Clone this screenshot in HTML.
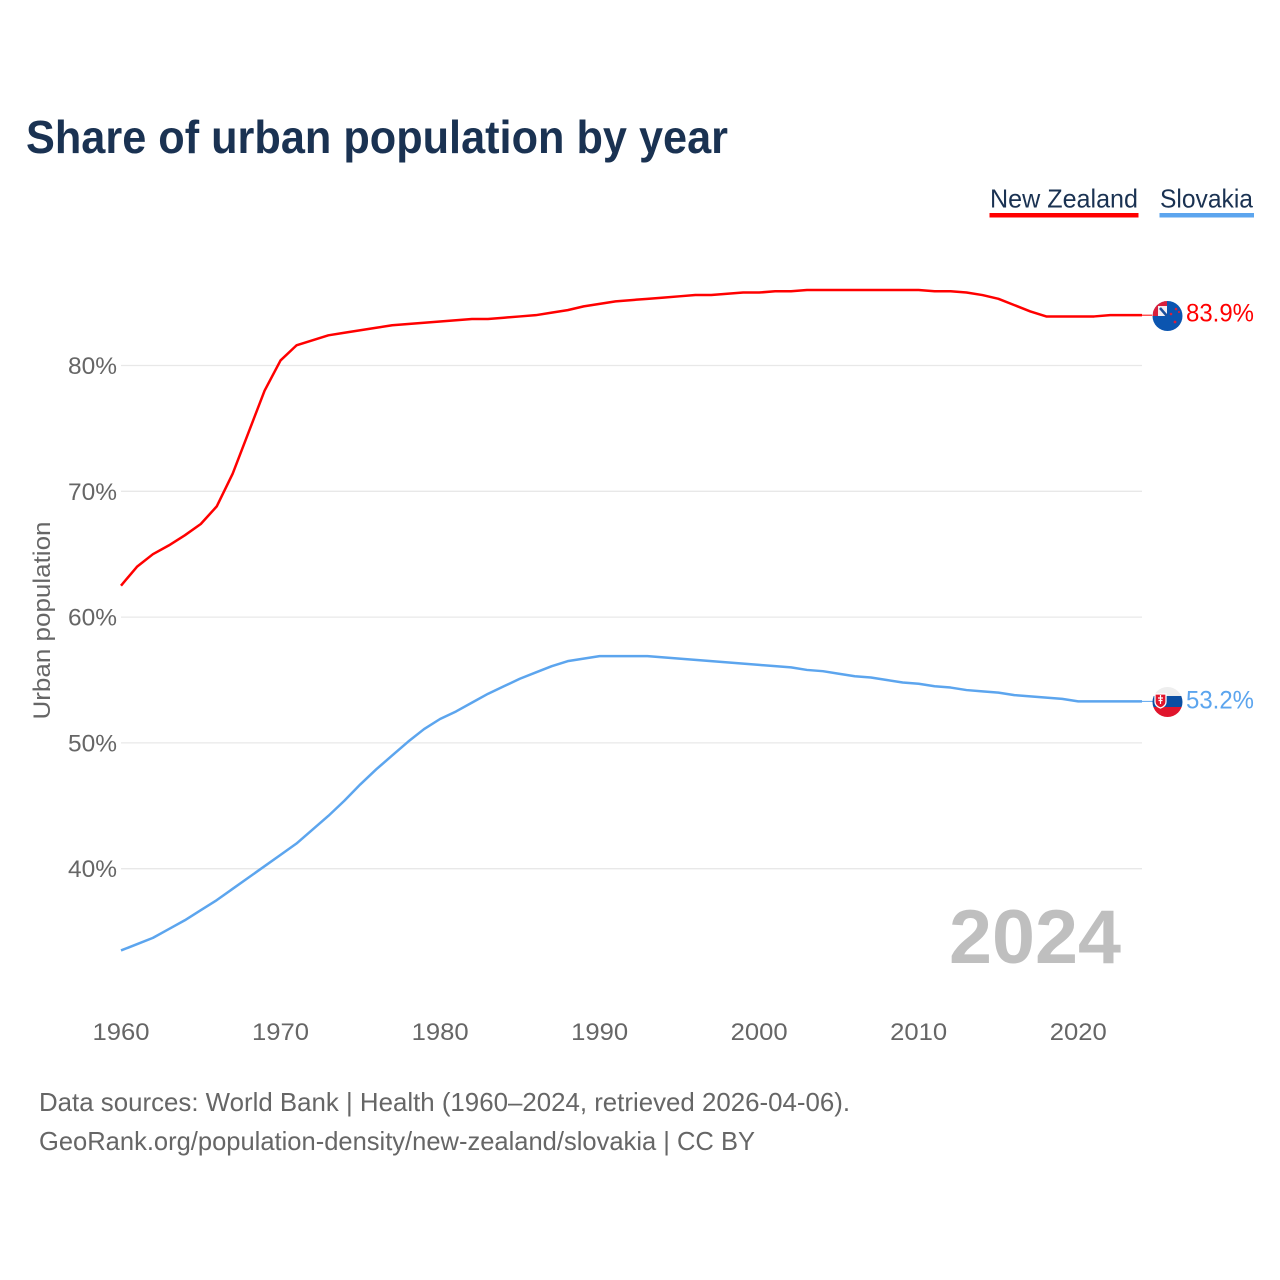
<!DOCTYPE html>
<html lang="en">
<head>
<meta charset="utf-8">
<title>Share of urban population by year</title>
<style>
html,body{margin:0;padding:0;background:#fff;width:1280px;height:1280px;overflow:hidden}
svg{display:block;font-family:"Liberation Sans",sans-serif}
</style>
</head>
<body>
<svg id="chart" width="1280" height="1280" viewBox="0 0 1280 1280" xmlns="http://www.w3.org/2000/svg">
  <rect width="1280" height="1280" fill="#fff"/>
  <text x="26" y="153" font-size="46" font-weight="700" fill="#1a3252" textLength="702" lengthAdjust="spacingAndGlyphs">Share of urban population by year</text>

  <g>
    <g>
      <text x="990" y="207.500" font-size="26" fill="#1a3252" textLength="148" lengthAdjust="spacingAndGlyphs">New Zealand</text>
      <rect x="989.5" y="213" width="149" height="4.5" fill="#ff0000"/>
    </g>
    <g>
      <text x="1160" y="207.500" font-size="26" fill="#1a3252" textLength="93" lengthAdjust="spacingAndGlyphs">Slovakia</text>
      <rect x="1159.5" y="213" width="94.5" height="4.5" fill="#5ca5ee"/>
    </g>
  </g>

  <g id="grid"></g>
  <g id="yticks"></g>
  <g id="xticks"></g>
  <text transform="translate(50,620.5) rotate(-90)" text-anchor="middle" font-size="24.500" fill="#666" textLength="198" lengthAdjust="spacingAndGlyphs">Urban population</text>

  <text x="949" y="963" font-size="76" font-weight="700" fill="#bfbfbf" textLength="172" lengthAdjust="spacingAndGlyphs">2024</text>

  <g id="series"></g>

  <defs>
    <clipPath id="nz-clip"><circle cx="1167.500" cy="316" r="15"/></clipPath>
    <clipPath id="sk-clip"><circle cx="1167.500" cy="702" r="15"/></clipPath>
  </defs>
  <g id="flag-nz" clip-path="url(#nz-clip)">
    <rect x="1152" y="300" width="31" height="32" fill="#0b55b0"/>
    <rect x="1152" y="300" width="15" height="16" fill="#f2eef2"/>
    <rect x="1153" y="301" width="14" height="5" fill="#d81f3c"/>
    <rect x="1153" y="301" width="5" height="15" fill="#d81f3c"/>
    <path d="M1160 308 L1167 316" stroke="#1b4f9c" stroke-width="2.5"/>
    <circle cx="1171" cy="314" r="1.3" fill="#d81f3c"/>
    <circle cx="1176" cy="309" r="1.3" fill="#d81f3c"/>
    <circle cx="1179" cy="312" r="1.1" fill="#d81f3c"/>
    <circle cx="1175" cy="322" r="1.4" fill="#d81f3c"/>
  </g>
  <g id="flag-sk" clip-path="url(#sk-clip)">
    <rect x="1152" y="687" width="31" height="9" fill="#eeeeee"/>
    <rect x="1152" y="696" width="31" height="11" fill="#0b4ea2"/>
    <rect x="1152" y="707" width="31" height="10" fill="#e0152c"/>
    <path d="M1155 694 h11 v8 q0 4 -5.5 6 q-5.500 -2 -5.500 -6 z" fill="#e0152c" stroke="#fff" stroke-width="1.300"/>
    <path d="M1160.500 695 v9 M1158 698 h5 M1158.500 700.500 h4" stroke="#fff" stroke-width="1.200"/>
  </g>

  <text x="1186" y="321.500" font-size="25" fill="#ff0000" textLength="68" lengthAdjust="spacingAndGlyphs">83.9%</text>
  <text x="1186" y="708.500" font-size="25" fill="#5ca5ee" textLength="68" lengthAdjust="spacingAndGlyphs">53.2%</text>

  <text x="39" y="1111" font-size="26" fill="#666" textLength="811" lengthAdjust="spacingAndGlyphs">Data sources: World Bank | Health (1960–2024, retrieved 2026-04-06).</text>
  <a><text x="39" y="1150" font-size="26" fill="#666" textLength="716" lengthAdjust="spacingAndGlyphs">GeoRank.org/population-density/new-zealand/slovakia | CC BY</text></a>
</svg>

<script>
const years = [1960,1961,1962,1963,1964,1965,1966,1967,1968,1969,1970,1971,1972,1973,1974,1975,1976,1977,1978,1979,1980,1981,1982,1983,1984,1985,1986,1987,1988,1989,1990,1991,1992,1993,1994,1995,1996,1997,1998,1999,2000,2001,2002,2003,2004,2005,2006,2007,2008,2009,2010,2011,2012,2013,2014,2015,2016,2017,2018,2019,2020,2021,2022,2023,2024];
const newZealand = [62.5,64,65,65.7,66.5,67.4,68.8,71.4,74.7,78,80.4,81.6,82,82.4,82.6,82.8,83,83.2,83.3,83.4,83.5,83.6,83.7,83.7,83.8,83.9,84,84.2,84.4,84.7,84.9,85.1,85.2,85.3,85.4,85.5,85.6,85.6,85.7,85.8,85.8,85.9,85.9,86,86,86,86,86,86,86,86,85.9,85.9,85.8,85.6,85.3,84.8,84.3,83.9,83.9,83.9,83.9,84,84,84];
const slovakia = [33.5,34,34.5,35.2,35.9,36.7,37.5,38.4,39.3,40.2,41.1,42,43.1,44.2,45.4,46.7,47.9,49,50.1,51.1,51.9,52.5,53.2,53.9,54.5,55.1,55.6,56.1,56.5,56.7,56.9,56.9,56.9,56.9,56.8,56.7,56.6,56.5,56.4,56.3,56.2,56.1,56,55.8,55.7,55.5,55.3,55.2,55,54.8,54.7,54.5,54.4,54.2,54.1,54,53.8,53.7,53.6,53.5,53.3,53.3,53.3,53.3,53.3];
const yTickValues = [40,50,60,70,80];
const yTickLabels = ["40%","50%","60%","70%","80%"];
const xTickValues = [1960,1970,1980,1990,2000,2010,2020];
const xTickLabels = ["1960","1970","1980","1990","2000","2010","2020"];

const NS = 'http://www.w3.org/2000/svg';
function xScale(year){ return 121 + (year - 1960) * (1142 - 121) / 64; }
function yScale(v){ return 868.7 - (v - 40) * (868.7 - 365.5) / 40; }

const gridGroup = document.getElementById('grid');
const yGroup = document.getElementById('yticks');
const xGroup = document.getElementById('xticks');
const seriesGroup = document.getElementById('series');

yTickValues.forEach(function(v, i){
  const line = document.createElementNS(NS, 'line');
  
  
  line.setAttribute('x1', 121);
  line.setAttribute('x2', 1142);
  line.setAttribute('y1', yScale(v));
  line.setAttribute('y2', yScale(v));
  line.setAttribute('stroke', '#e8e8e8');
  line.setAttribute('stroke-width', '1.3');
  gridGroup.appendChild(line);

  const t = document.createElementNS(NS, 'text');
  
  
  t.setAttribute('x', 117);
  t.setAttribute('y', yScale(v) + 8.5);
  t.setAttribute('text-anchor', 'end');
  t.setAttribute('font-size', '24');
  t.setAttribute('fill', '#666');
  t.setAttribute('textLength', '49');
  t.setAttribute('lengthAdjust', 'spacingAndGlyphs');
  t.textContent = yTickLabels[i];
  yGroup.appendChild(t);
});

xTickValues.forEach(function(v, i){
  const t = document.createElementNS(NS, 'text');
  
  
  t.setAttribute('x', xScale(v));
  t.setAttribute('y', 1040);
  t.setAttribute('text-anchor', 'middle');
  t.setAttribute('font-size', '24');
  t.setAttribute('fill', '#666');
  t.setAttribute('textLength', '57');
  t.setAttribute('lengthAdjust', 'spacingAndGlyphs');
  t.textContent = xTickLabels[i];
  xGroup.appendChild(t);
});

function pathFor(values){
  return values.map(function(v, i){
    return (i ? 'L' : 'M') + xScale(years[i]).toFixed(2) + ' ' + yScale(v).toFixed(2);
  }).join(' ');
}

const nzPath = document.createElementNS(NS, 'path');


nzPath.setAttribute('d', pathFor(newZealand));
nzPath.setAttribute('fill', 'none');
nzPath.setAttribute('stroke', '#ff0000');
nzPath.setAttribute('stroke-width', '2.5');
nzPath.setAttribute('stroke-linejoin', 'round');
seriesGroup.appendChild(nzPath);

const skPath = document.createElementNS(NS, 'path');


skPath.setAttribute('d', pathFor(slovakia));
skPath.setAttribute('fill', 'none');
skPath.setAttribute('stroke', '#5ca5ee');
skPath.setAttribute('stroke-width', '2.5');
skPath.setAttribute('stroke-linejoin', 'round');
seriesGroup.appendChild(skPath);

const nzLeader = document.createElementNS(NS, 'line');


nzLeader.setAttribute('x1', xScale(2024));
nzLeader.setAttribute('x2', 1153);
nzLeader.setAttribute('y1', yScale(newZealand[newZealand.length - 1]));
nzLeader.setAttribute('y2', yScale(newZealand[newZealand.length - 1]));
nzLeader.setAttribute('stroke', '#ff0000');
nzLeader.setAttribute('stroke-width', '1');
seriesGroup.appendChild(nzLeader);

const skLeader = document.createElementNS(NS, 'line');


skLeader.setAttribute('x1', xScale(2024));
skLeader.setAttribute('x2', 1153);
skLeader.setAttribute('y1', yScale(slovakia[slovakia.length - 1]));
skLeader.setAttribute('y2', yScale(slovakia[slovakia.length - 1]));
skLeader.setAttribute('stroke', '#5ca5ee');
skLeader.setAttribute('stroke-width', '1');
seriesGroup.appendChild(skLeader);
</script>
</body>
</html>
